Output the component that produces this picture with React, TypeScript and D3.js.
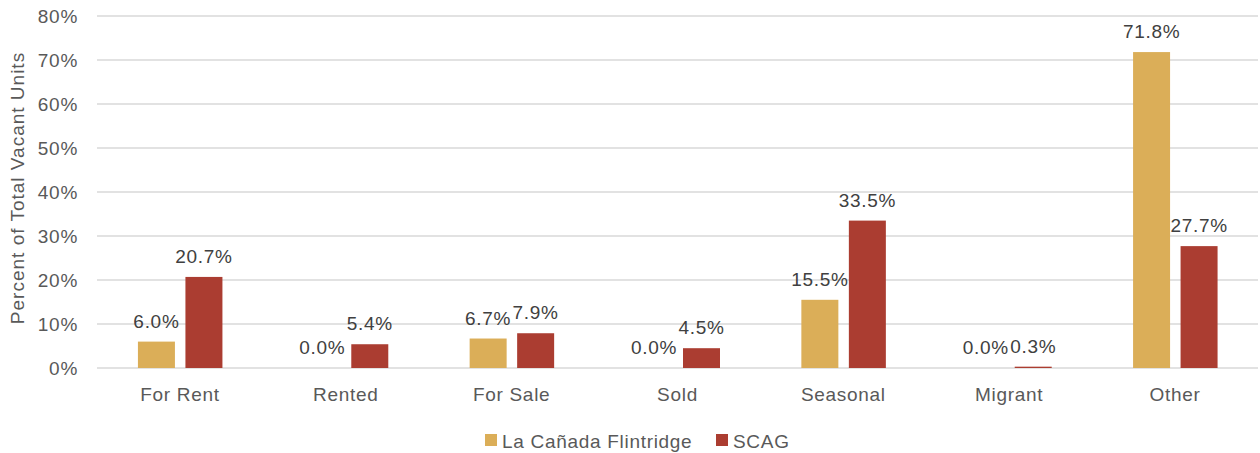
import React from "react";
import * as d3 from "d3";

const categories = ["For Rent", "Rented", "For Sale", "Sold", "Seasonal", "Migrant", "Other"];
const seriesNames = ["La Cañada Flintridge", "SCAG"];
const lcfValues = [6.0, 0.0, 6.7, 0.0, 15.5, 0.0, 71.8];
const scagValues = [20.7, 5.4, 7.9, 4.5, 33.5, 0.3, 27.7];
const yTicks = [0, 10, 20, 30, 40, 50, 60, 70, 80];
const colors = ["#DBAE58", "#AB3D31"];

export default function App() {
  const W = 1260, H = 453;
  const left = 97, right = 1258, top = 16, bottom = 368;
  const x = d3.scaleBand<string>().domain(categories).range([left, right]);
  const y = d3.scaleLinear().domain([0, 80]).range([bottom, top]);
  const barW = 37;
  const offsets = [-23.5, 24];
  const series = [lcfValues, scagValues];
  const font = "'Liberation Sans', Arial, sans-serif";
  const ls = 0.7;
  return (
    <svg width={W} height={H} style={{ position: "absolute", left: 0, top: 0 }} fontFamily={font}>
      <rect width={W} height={H} fill="#fff" />
      {yTicks.map((t) => (
        <g key={t}>
          <line x1={left} x2={right} y1={y(t)} y2={y(t)} stroke="#d9d9d9" strokeWidth={1.3} />
          <text x={78} y={y(t)} dy="0.35em" textAnchor="end" fontSize={19} letterSpacing={ls} fill="#595959">{t}%</text>
        </g>
      ))}
      <text transform={`translate(24,188) rotate(-90)`} textAnchor="middle" fontSize={19} letterSpacing={1.0} fill="#595959">Percent of Total Vacant Units</text>
      {categories.map((c, i) => {
        const cx = x(c)! + x.bandwidth() / 2;
        return (
          <g key={c}>
            {series.map((vals, s) => {
              const v = vals[i];
              const bx = cx + offsets[s] - barW / 2;
              return (
                <g key={s}>
                  <rect x={bx} y={y(v)} width={barW} height={bottom - y(v)} fill={colors[s]} />
                  <text x={cx + offsets[s]} y={y(v) - 14} textAnchor="middle" fontSize={19} letterSpacing={ls} fill="#404040">{v.toFixed(1)}%</text>
                </g>
              );
            })}
            <text x={cx} y={401} textAnchor="middle" fontSize={19} letterSpacing={ls} fill="#595959">{c}</text>
          </g>
        );
      })}
      {(() => {
        const items = [{ x: 485, name: seriesNames[0] }, { x: 716, name: seriesNames[1] }];
        return items.map((it, i) => (
          <g key={i}>
            <rect x={it.x} y={434} width={12} height={12} fill={colors[i]} />
            <text x={it.x + 17} y={441} dy="0.35em" fontSize={19} letterSpacing={ls} fill="#595959">{it.name}</text>
          </g>
        ));
      })()}
    </svg>
  );
}
